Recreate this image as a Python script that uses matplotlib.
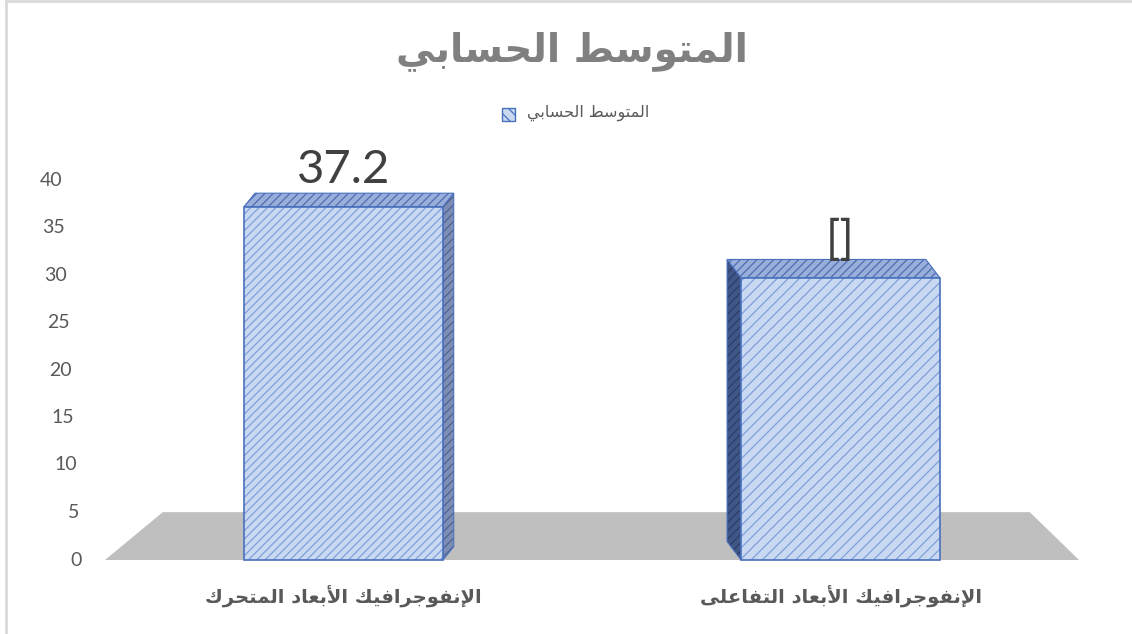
import numpy as np
import matplotlib
matplotlib.use('Agg')
import matplotlib.pyplot as plt
from matplotlib.patches import Polygon, Rectangle
from matplotlib.transforms import IdentityTransform

# data
categories = ['الإنفوجرافيك الأبعاد المتحرك', 'الإنفوجرافيك الأبعاد التفاعلى']
values = [37.2, 29.7]
value_labels = ['37.2', '[]']
yticks = [0, 5, 10, 15, 20, 25, 30, 35, 40]
title = 'المتوسط الحسابي'
series_name = 'المتوسط الحسابي'

# --- tiny arabic shaper (matplotlib has no bidi / joining) ---
# base codepoint of presentation forms: iso, fin, ini, med
DUAL = {'ب': 0xFE8F, 'ت': 0xFE95, 'ج': 0xFE9D, 'ح': 0xFEA1, 'س': 0xFEB1,
        'ط': 0xFEC1, 'ع': 0xFEC9, 'ف': 0xFED1, 'ك': 0xFED9, 'ل': 0xFEDD,
        'م': 0xFEE1, 'ن': 0xFEE5, 'ي': 0xFEF1}
RIGHT = {'ا': 0xFE8D, 'أ': 0xFE83, 'إ': 0xFE87, 'د': 0xFEA9, 'ر': 0xFEAD,
         'و': 0xFEED, 'ى': 0xFEEF}
LAM_ALEF = {'ا': 0xFEFB, 'أ': 0xFEF7, 'إ': 0xFEF9}


def shape(text):
    out = []
    i = 0
    prev = False
    while i < len(text):
        c = text[i]
        nxt_c = text[i + 1] if i + 1 < len(text) else ''
        if c == 'ل' and nxt_c in LAM_ALEF:
            out.append(chr(LAM_ALEF[nxt_c] + (1 if prev else 0)))
            prev = False
            i += 2
            continue
        if c in DUAL:
            nxt = nxt_c in DUAL or nxt_c in RIGHT
            if prev and nxt:
                k = 3
            elif prev:
                k = 1
            elif nxt:
                k = 2
            else:
                k = 0
            out.append(chr(DUAL[c] + k))
            prev = nxt
        elif c in RIGHT:
            out.append(chr(RIGHT[c] + (1 if prev else 0)))
            prev = False
        else:
            out.append(c)
            prev = False
        i += 1
    return ''.join(reversed(out))


W, H = 1132, 634
fig = plt.figure(figsize=(W / 100, H / 100), dpi=100)
fig.patch.set_facecolor('white')

# plot area (bars centred at 0 and 1)
ax = fig.add_axes([95 / W, 74 / H, 994 / W, 410 / H])
ax.set_xlim(-0.5, 1.5)
ax.set_ylim(0, 410 / 9.5)
ax.axis('off')

bar_w = 0.40
front_fc = '#c9d9f2'
front_hc = '#7f9fdb'
edge_c = '#4a70bd'

plt.rcParams['hatch.linewidth'] = 0.9


def to_px(x, y):
    return ax.transData.transform((x, y))


def face(pts, fc, hc, hatch, z, ec=edge_c, lw=1.0):
    kw = dict(closed=True, transform=IdentityTransform(), clip_on=False, zorder=z)
    ax.add_patch(Polygon(pts, facecolor=fc, edgecolor='none', **kw))
    ax.add_patch(Polygon(pts, fill=False, hatch=hatch, edgecolor=hc, lw=0, **kw))
    ax.add_patch(Polygon(pts, fill=False, edgecolor=ec, lw=lw, **kw))


# floor (own vanishing point)
fl0 = to_px(-0.48, 0)
fl1 = to_px(1.48, 0)
fvx, fvy, ff = 631, H - 125, 0.11
floor_pts = [fl0, fl1,
             (fl1[0] + ff * (fvx - fl1[0]), fl1[1] + ff * (fvy - fl1[1])),
             (fl0[0] + ff * (fvx - fl0[0]), fl0[1] + ff * (fvy - fl0[1]))]
ax.add_patch(Polygon(floor_pts, closed=True, transform=IdentityTransform(),
                     facecolor='#bfbfbf', edgecolor='none', zorder=1, clip_on=False))

# bars with fake 3d depth
vx, vy, fx, fy = 560, H - 15, 0.05, 0.07
side_cols = [('#7d8db3', '#4f6494'), ('#3f5687', '#2c3f6b')]
for i, v in enumerate(values):
    bl = to_px(i - bar_w / 2, 0)
    tr = to_px(i + bar_w / 2, v)
    cx = (bl[0] + tr[0]) / 2
    dx = fx * (vx - cx)
    dy = fy * (vy - tr[1])
    x0, y0, x1, y1 = bl[0], bl[1], tr[0], tr[1]
    # side face
    sx = x1 if dx > 0 else x0
    side = [(sx, y0), (sx, y1), (sx + dx, y1 + dy), (sx + dx, y0 + dy)]
    face(side, side_cols[i][0], side_cols[i][1], '////', 2, lw=0.8)
    # top face
    top = [(x0, y1), (x1, y1), (x1 + dx, y1 + dy), (x0 + dx, y1 + dy)]
    face(top, '#98aedb', '#4f6eaf', '////', 2, lw=0.8)
    # front face
    front = [(x0, y0), (x1, y0), (x1, y1), (x0, y1)]
    face(front, front_fc, front_hc, '////' if i == 0 else '///', 3, lw=1.2)

    ax.text(i, v + 2.5, value_labels[i], ha='center', va='baseline',
            fontsize=34, family='Lato', color='#404040', zorder=5)
    ax.text(i, -4.6, shape(categories[i]), ha='center', va='baseline',
            fontsize=14, family='DejaVu Sans', fontweight='bold', color='#595959')

# y tick labels, slightly slanted like the 3d axis
for t in yticks:
    xa = (82 - 0.5 * t - 95) / 994
    ax.text(xa, t, str(t), ha='right', va='center', fontsize=14, family='Lato',
            color='#595959', transform=ax.get_yaxis_transform())

# title
fig.text(572 / W, 1 - 61 / H, shape(title), ha='center', va='baseline',
         fontsize=28, family='DejaVu Sans', fontweight='bold', color='#808080')

# legend
fig.text(588 / W, 1 - 117 / H, shape(series_name), ha='center', va='baseline',
         fontsize=11.5, family='DejaVu Sans', color='#595959')
fig.patches.append(Rectangle((502 / W, 1 - 121 / H), 13 / W, 13 / H,
                             transform=fig.transFigure, facecolor=front_fc,
                             edgecolor=edge_c, hatch='\\\\\\', lw=1))

# chart area border
fig.add_artist(plt.Line2D([6 / W, 6 / W], [0, 1 - 1 / H], transform=fig.transFigure,
                          color='#d9d9d9', lw=2))
fig.add_artist(plt.Line2D([6 / W, 1], [1 - 1 / H, 1 - 1 / H], transform=fig.transFigure,
                          color='#d9d9d9', lw=2))

fig.savefig('out.png', dpi=100)
